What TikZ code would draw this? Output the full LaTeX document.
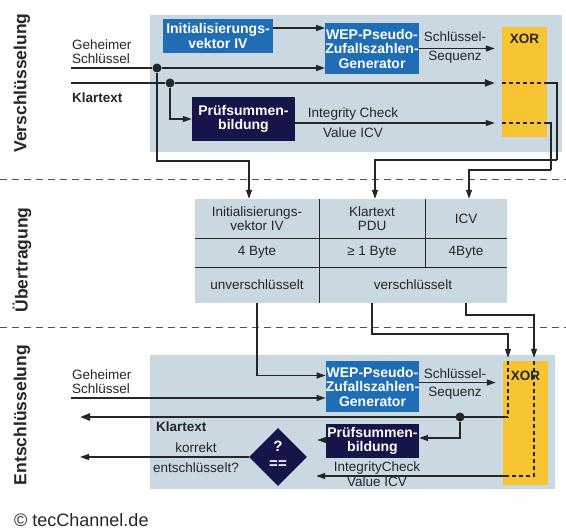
\documentclass[tikz,border=0pt]{standalone}
\usepackage{fontspec}
\setmainfont{Liberation Sans}
\usepackage{tikz}
\usetikzlibrary{arrows.meta, positioning, calc, shapes.geometric}

\definecolor{panelblue}{HTML}{C9D8E1}
\definecolor{wepblue}{HTML}{1F6DB4}
\definecolor{navy}{HTML}{15154A}
\definecolor{xoryellow}{HTML}{F8C532}
\definecolor{linec}{HTML}{262626}

\begin{document}
\begin{tikzpicture}[x=1pt, y=-1pt,
    txt/.style={font=\fontsize{13.5}{14}\selectfont, align=center, inner sep=0pt, text=linec},
    boldtxt/.style={txt, font=\fontsize{13.5}{14}\selectfont\bfseries},
    boxtxt/.style={font=\fontsize{14}{14.5}\selectfont\bfseries, align=center, inner sep=0pt, text=white},
    bluebox/.style={boxtxt, fill=wepblue},
    navybox/.style={boxtxt, fill=navy},
    xorbox/.style={fill=xoryellow, inner sep=0pt},
    cell/.style={txt, fill=panelblue, inner sep=0pt},
    sect/.style={font=\fontsize{17.5}{17.5}\selectfont\bfseries, rotate=90, inner sep=0pt, text=linec},
    flow/.style={draw=linec, line width=1.3pt, -{Triangle[length=9pt,width=6pt]}},
    plain/.style={draw=linec, line width=1.3pt},
    heavy/.style={draw=linec, line width=2.3pt},
    xordash/.style={draw=linec, line width=1.1pt, dash pattern=on 4pt off 3pt},
    divider/.style={draw=linec!80, line width=1pt, dash pattern=on 7pt off 5pt},
    dot/.style={circle, fill=linec, inner sep=0pt, minimum size=9pt},
]
    \useasboundingbox (0,0) rectangle (566,529);

    % Section labels and dividers
    \node[sect] (enc) at (22,83) {Verschlüsselung};
    \node[sect] (trans) at (22,260) {Übertragung};
    \node[sect] (dec) at (22,415) {Entschlüsselung};
    \draw[divider] (0,180) -- (566,180);
    \draw[divider] (0,328) -- (566,328);

    % ---------------- Verschluesselung ----------------
    \fill[panelblue] (150,15) rectangle (562,152);

    \node[bluebox, minimum width=110pt, minimum height=34pt] (iv) at (218,36) {Initialisierungs-\\vektor IV};
    \node[bluebox, minimum width=92pt, minimum height=51pt] (wep) at (372,48.5) {WEP-Pseudo-\\Zufallszahlen-\\Generator};
    \node[navybox, minimum width=103pt, minimum height=44pt] (pruef) at (243.5,119) {Prüfsummen-\\bildung};
    \node[xorbox, minimum width=45pt, minimum height=110pt] (xor) at (524.5,82) {};
    \node[boldtxt] (xorlabel) at (xor.north |- 0,39) {XOR};

    % Inputs
    \coordinate (keyin) at (71,68);
    \node[dot] (keydot) at (157,68) {};
    \coordinate (ptin) at (71,83);
    \node[dot] (ptdot) at (170,83) {};
    \node[txt, anchor=west, align=left] (keylbl) at (72,52) {Geheimer\\Schlüssel};
    \node[boldtxt, anchor=west] (ptlbl) at (72,98) {Klartext};

    % Connections
    \draw[plain] (keyin) -- (keydot);
    \draw[flow] (keydot) -- (keydot -| wep.west);
    \draw[flow] ([yshift=8pt]iv.east) -- ([yshift=8pt]iv.east -| wep.west);
    \draw[flow, shorten >=7pt] (wep.east) -- (wep.east -| xor.west);
    \draw[heavy] (ptin) -- (ptdot);
    \draw[heavy, -{Triangle[length=10pt,width=7pt]}, shorten >=7pt] (ptdot) -- (ptdot -| xor.west);
    \draw[flow] (ptdot) |- (pruef.west);
    \draw[flow, shorten >=7pt] ([yshift=-4pt]pruef.east) -- ([yshift=-4pt]pruef.east -| xor.west);
    \draw[xordash] (xor.west |- ptdot) -- (xor.east |- ptdot);
    \draw[xordash] (xor.west |- 0,123) -- (xor.east |- 0,123);

    \node[txt] (seqlbl) at (455,47.5) {Schlüssel-\\[5pt]Sequenz};
    \node[txt] (icvlbl) at (353,123) {Integrity Check\\[6pt]Value ICV};

    % ---------------- Uebertragung ----------------
    \node[cell, minimum width=124pt, minimum height=39pt] (c11) at (257,218.5) {Initialisierungs-\\vektor IV};
    \node[cell, minimum width=106pt, minimum height=39pt] (c12) at (372,218.5) {Klartext\\PDU};
    \node[cell, minimum width=82pt, minimum height=39pt] (c13) at (466,218.5) {ICV};
    \node[cell, minimum width=124pt, minimum height=29pt] (c21) at (257,252.5) {4 Byte};
    \node[cell, minimum width=106pt, minimum height=29pt] (c22) at (372,252.5) {≥ 1 Byte};
    \node[cell, minimum width=82pt, minimum height=29pt] (c23) at (466,252.5) {\raisebox{2pt}{4Byte}};
    \node[cell, minimum width=124pt, minimum height=36pt] (c31) at (257,285) {unverschlüsselt};
    \node[cell, minimum width=188pt, minimum height=36pt] (c32) at (413,285) {verschlüsselt};
    \draw[plain, line width=1pt] (c11.south west) -- (c13.south east);
    \draw[plain, line width=1pt] (c21.south west) -- (c23.south east);
    \draw[plain, line width=1pt] (c11.north east) -- (c31.south east);
    \draw[plain, line width=1pt] (c12.north east) -- (c22.south east);

    \coordinate (keyturn) at (157,161);
    \coordinate (ptturn) at (557,160);
    \coordinate (icvturn) at (551,170);
    \draw[flow] (keydot) -- (keyturn) -| ([xshift=-8pt]c11.north);
    \draw[plain] (xor.east |- ptdot) -| (ptturn);
    \draw[flow] (ptturn) -| ([xshift=3pt]c12.north);
    \draw[plain] (xor.east |- 0,123) -| (icvturn);
    \draw[flow] (icvturn) -| ([xshift=3pt]c13.north);

    % ---------------- Entschluesselung ----------------
    \fill[panelblue] (150,355) rectangle (555,489);

    \node[bluebox, minimum width=93pt, minimum height=51pt] (wep2) at (372.5,386.5) {WEP-Pseudo-\\Zufallszahlen-\\Generator};
    \node[navybox, minimum width=93pt, minimum height=34pt] (pruef2) at (372.5,441) {Prüfsummen-\\bildung};
    \node[xorbox, minimum width=45pt, minimum height=124pt] (xor2) at (525.5,423) {};
    \node[boldtxt] (xorlabel2) at (xor2.north |- 0,376) {XOR};
    \node[diamond, fill=navy, inner sep=0pt, minimum size=58pt] (dia) at (278,457) {};
    \node[boxtxt, font=\fontsize{15}{15}\selectfont\bfseries] (qmark) at (278,446) {?};
    \node[boxtxt, font=\fontsize{15}{15}\selectfont\bfseries] (eqmark) at (278,465) {==};

    \coordinate (key2in) at (71,398);
    \coordinate (pdujoin) at (508,334);
    \coordinate (icvjoin) at (534,315);
    \node[dot] (kdot2) at (460,417) {};
    \coordinate (klout) at (80,417);
    \coordinate (okout) at (80,457);

    \node[txt, anchor=west, align=left] (keylbl2) at (72,381.5) {Geheimer\\Schlüssel};
    \node[boldtxt, anchor=west] (ptlbl2) at (156,427) {Klartext};
    \node[txt] (oklbl) at (196,458) {korrekt\\[6pt]entschlüsselt?};
    \node[txt] (seqlbl2) at (455,384) {Schlüssel-\\[4pt]Sequenz};
    \node[txt] (icvlbl2) at (377,474.5) {IntegrityCheck\\[1pt]Value ICV};

    % Connections
    \draw[flow] (c31.south) |- ([yshift=11pt]wep2.west);
    \draw[flow] (key2in) -- (key2in -| wep2.west);
    \draw[flow, shorten >=7pt] ([yshift=4pt]wep2.east) -- ([yshift=4pt]wep2.east -| xor2.west);
    \draw[flow, shorten >=3pt] (c22.south |- c32.south) |- (pdujoin) -- (pdujoin |- xor2.north);
    \draw[flow, shorten >=3pt] (c23.south |- c32.south) |- (icvjoin) -- (icvjoin |- xor2.north);
    \draw[xordash] (pdujoin |- xor2.north) -- (pdujoin |- kdot2);
    \draw[xordash] (icvjoin |- xor2.north) -- (icvjoin |- 0,476) -- (pdujoin |- 0,476);
    \draw[heavy, -{Triangle[length=10pt,width=7pt]}] (pdujoin |- kdot2) -- (klout);
    \draw[flow] (kdot2) |- ([yshift=3pt]pruef2.east);
    \draw[flow, shorten >=10pt] ([yshift=1pt]pruef2.west) -- ([yshift=1pt]pruef2.west -| dia.east);
    \draw[flow, shorten >=9pt] (pdujoin |- 0,476) -- (dia.east |- 0,476);
    \draw[flow] (dia.west) -- (okout);

    % Copyright
    \node[anchor=west, inner sep=0pt, font=\fontsize{18}{18}\selectfont, text=linec] (copy) at (14,520) {© tecChannel.de};
\end{tikzpicture}
\end{document}
